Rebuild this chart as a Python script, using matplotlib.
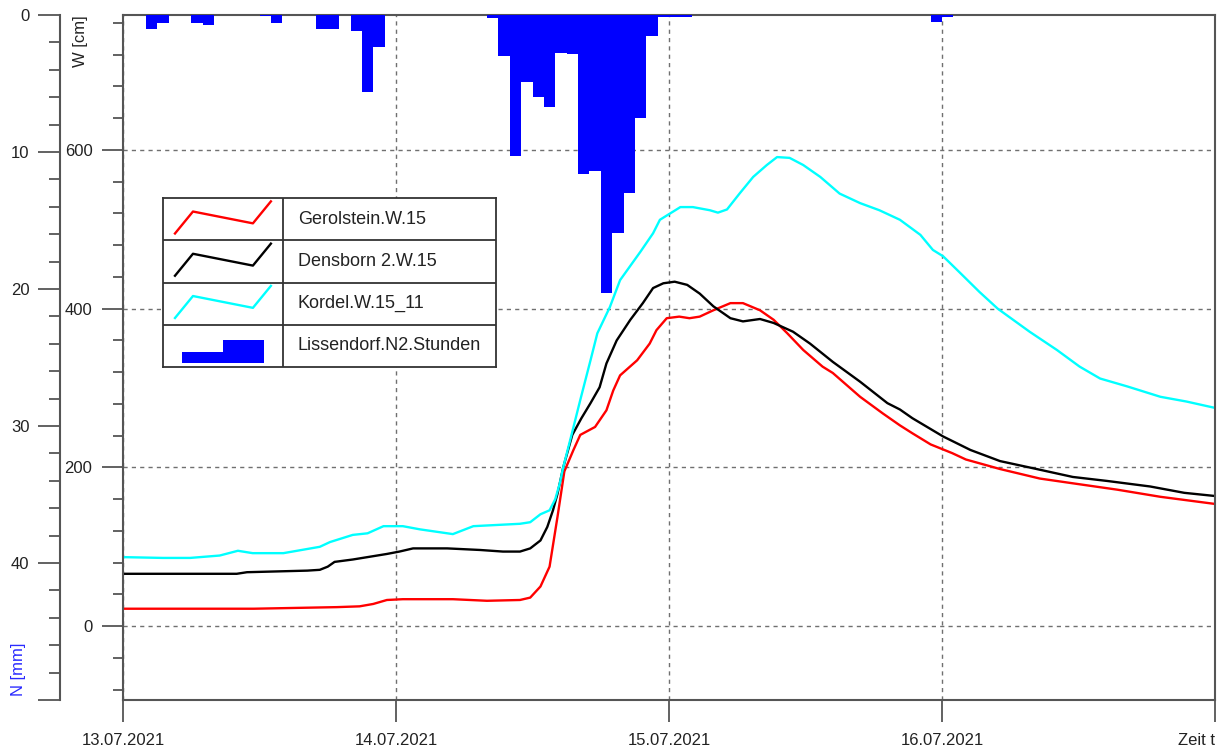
import matplotlib
matplotlib.use('Agg')
import matplotlib.pyplot as plt
from matplotlib.ticker import MultipleLocator, FixedLocator, FuncFormatter
from matplotlib.patches import Rectangle

plt.rcParams['font.family'] = ['Liberation Sans', 'DejaVu Sans']

# time axis in hours since 13.07.2021 00:00
day_ticks = [0, 24, 48, 72, 96]
day_labels = ['13.07.2021', '14.07.2021', '15.07.2021', '16.07.2021', 'Zeit t']

# Gerolstein.W.15 [cm]
gerolstein_t = [0, 11.5, 18.8, 20.8, 22.0, 23.2, 24.6, 29.0, 32.0, 34.9, 35.8, 36.7, 37.5, 38.2,
                38.8, 39.6, 40.2, 41.5, 42.5, 43.1, 43.7, 45.2, 46.3, 46.9, 47.8, 48.9, 49.8, 50.7,
                51.9, 53.4, 54.5, 56.0, 57.2, 58.4, 59.8, 61.5, 62.4, 64.8, 66.8, 68.3, 69.4, 71.0,
                72.9, 74.1, 77.1, 80.6, 83.5, 87.4, 91.2, 96.0]
gerolstein_w = [22, 22, 24, 25, 28, 33, 34, 34, 32, 33, 36, 50, 75, 138,
                195, 222, 241, 251, 272, 297, 316, 335, 356, 373, 388, 390, 388, 390,
                398, 407, 407, 398, 386, 369, 348, 327, 319, 289, 268, 253, 243, 229,
                218, 210, 198, 186, 180, 172, 163, 154]

# Densborn 2.W.15 [cm]
densborn_t = [0, 10.0, 10.9, 16.2, 17.3, 18.0, 18.6, 20.2, 23.2, 24.3, 25.5, 26.7, 28.5, 31.4,
              33.4, 34.9, 35.8, 36.7, 37.3, 37.8, 38.2, 38.7, 39.5, 40.3, 41.1, 41.9, 42.5, 43.4,
              44.6, 45.7, 46.6, 47.5, 48.5, 49.6, 50.7, 51.9, 53.4, 54.5, 56.0, 57.2, 58.9, 60.4,
              62.4, 64.8, 67.2, 68.3, 69.4, 72.1, 74.5, 77.1, 80.0, 83.5, 86.5, 90.3, 93.3, 96.0]
densborn_w = [66, 66, 68, 70, 71, 75, 81, 84, 91, 94, 98, 98, 98, 96,
              94, 94, 98, 108, 125, 146, 167, 200, 241, 262, 281, 301, 331, 360,
              386, 407, 426, 432, 434, 430, 419, 403, 388, 384, 387, 382, 371, 356,
              333, 308, 281, 273, 262, 239, 222, 208, 199, 188, 183, 176, 168, 164]

# Kordel.W.15_11 [cm]
kordel_t = [0, 3.5, 5.9, 8.5, 10.1, 11.4, 14.1, 17.3, 18.2, 20.2, 21.5, 22.9, 24.6, 26.1,
            29.0, 30.8, 34.9, 35.8, 36.7, 37.5, 38.0, 38.4, 38.7, 39.5, 40.2, 41.1, 41.7, 42.8,
            43.7, 45.5, 46.6, 47.2, 48.1, 49.0, 50.1, 51.6, 52.3, 53.1, 54.2, 55.4, 56.6, 57.5,
            58.6, 59.8, 61.3, 63.0, 64.8, 66.5, 68.3, 70.1, 71.2, 72.1, 73.6, 75.3, 76.9, 79.7,
            82.1, 84.1, 85.9, 88.3, 91.2, 93.5, 96.0]
kordel_w = [87, 86, 86, 89, 95, 92, 92, 100, 106, 115, 117, 126, 126, 122,
            116, 126, 129, 131, 141, 146, 160, 180, 200, 245, 285, 335, 369, 402,
            436, 472, 495, 512, 520, 528, 528, 524, 521, 525, 545, 566, 581, 591,
            590, 581, 566, 545, 533, 524, 512, 493, 474, 466, 445, 421, 400, 371,
            348, 327, 312, 302, 289, 283, 275]

# Lissendorf.N2.Stunden [mm], hourly sums (hour start)
rain_hour = [2, 3, 6, 7, 12, 13, 17, 18, 20, 21, 22, 32, 33, 34, 35, 36, 37, 38, 39,
             40, 41, 42, 43, 44, 45, 46, 47, 48, 49, 71, 72]
rain_mm = [1.05, 0.55, 0.55, 0.75, 0.1, 0.55, 1.0, 1.0, 1.15, 5.6, 2.35, 0.25, 3.0, 10.3,
           4.9, 5.95, 6.75, 2.75, 2.85, 11.6, 11.4, 20.3, 15.9, 13.0, 7.5, 1.5, 0.12, 0.12,
           0.12, 0.5, 0.12]

W, H = 1218, 754
def fx(px):
    return px / W
def fy(py):
    return 1 - py / H

fig = plt.figure(figsize=(W / 100, H / 100), dpi=100)
ax = fig.add_axes([fx(123), fy(700), fx(1215) - fx(123), fy(15) - fy(700)])
axn = ax.twinx()

frame = '#555555'
txt = '#222222'

# water levels
ax.plot(gerolstein_t, gerolstein_w, color='#ff0000', lw=1.7)
ax.plot(densborn_t, densborn_w, color='black', lw=1.7)
ax.plot(kordel_t, kordel_w, color='#00ffff', lw=1.7)

ax.set_xlim(0, 96)
ax.set_ylim(-93, 770)
ax.xaxis.set_major_locator(FixedLocator(day_ticks))
ax.set_xticklabels(day_labels)
ax.get_xticklabels()[-1].set_ha('right')
ax.yaxis.set_major_locator(FixedLocator([0, 200, 400, 600]))
ax.yaxis.set_minor_locator(MultipleLocator(40))
ax.tick_params(axis='y', which='major', length=15, width=1.3, color=frame, pad=7,
               labelsize=12, labelcolor=txt)
ax.tick_params(axis='y', which='minor', length=7.5, width=1.3, color=frame)
ax.tick_params(axis='x', which='major', length=16, width=1.3, color=frame, pad=8,
               labelsize=12, labelcolor=txt)
ax.grid(True, which='major', ls=(0, (3, 3)), color='#707070', lw=1)
for s in ax.spines.values():
    s.set_color(frame)
    s.set_linewidth(1.5)

# precipitation bars hanging from the top
axn.bar(rain_hour, rain_mm, width=1, align='edge', color='#0000ff', linewidth=0)
axn.set_ylim(50, 0)
axn.yaxis.tick_left()
axn.spines['left'].set_visible(True)
axn.spines['left'].set_position(('outward', 63 * 0.72))
axn.spines['left'].set_color(frame)
axn.spines['left'].set_linewidth(1.5)
for side in ['right', 'top', 'bottom']:
    axn.spines[side].set_visible(False)
axn.yaxis.set_major_locator(MultipleLocator(10))
axn.yaxis.set_minor_locator(MultipleLocator(2))
axn.yaxis.set_major_formatter(FuncFormatter(lambda v, p: '' if v >= 50 else f'{v:g}'))
axn.tick_params(axis='y', which='major', length=16, width=1.3, color=frame, pad=6,
                labelsize=12, labelcolor=txt)
axn.tick_params(axis='y', which='minor', length=8, width=1.3, color=frame)

fig.text(fx(81), fy(15), 'W [cm]', rotation=90, ha='center', va='top', fontsize=12, color=txt)
fig.text(fx(18), fy(669), 'N [mm]', rotation=90, ha='center', va='center', fontsize=12,
         color='#2a2aff')

# legend drawn as a small table
axl = fig.add_axes([fx(163), fy(367), fx(496) - fx(163), fy(198) - fy(367)])
axl.set_xlim(0, 1)
axl.set_ylim(0, 4)
axl.set_xticks([])
axl.set_yticks([])
for s in axl.spines.values():
    s.set_color('#333333')
    s.set_linewidth(1.3)
div = 0.36
axl.axvline(div, color='#333333', lw=1.3)
for yy in [1, 2, 3]:
    axl.axhline(yy, color='#333333', lw=1.3)

names = ['Gerolstein.W.15', 'Densborn 2.W.15', 'Kordel.W.15_11', 'Lissendorf.N2.Stunden']
colors = ['#ff0000', 'black', '#00ffff']
gx = [0.10 * div, 0.25 * div, 0.75 * div, 0.90 * div]
gy = [0.16, 0.68, 0.40, 0.92]
for r, name in enumerate(names):
    base = 3 - r
    if r < 3:
        axl.plot(gx, [base + v for v in gy], color=colors[r], lw=1.7)
    else:
        axl.add_patch(Rectangle((0.16 * div, base + 0.1), 0.34 * div, 0.26, color='#0000ff', lw=0))
        axl.add_patch(Rectangle((0.50 * div, base + 0.1), 0.34 * div, 0.54, color='#0000ff', lw=0))
    axl.text(0.405, base + 0.5, name, ha='left', va='center', fontsize=13, color=txt)

fig.savefig('out.png', dpi=100)
